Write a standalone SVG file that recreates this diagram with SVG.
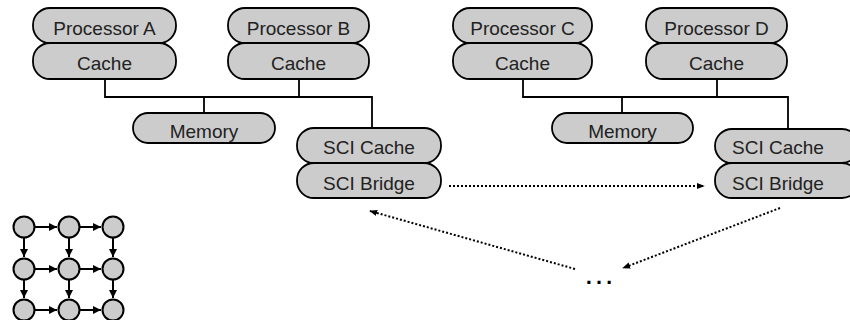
<svg xmlns="http://www.w3.org/2000/svg" width="850" height="320" viewBox="0 0 850 320">
<defs>
<style>
.pill{fill:#cccccc;stroke:#000;stroke-width:1.8}
.t{font-family:"Liberation Sans",Arial,sans-serif;font-size:19px;fill:#222;text-anchor:middle}
.bus{fill:none;stroke:#000;stroke-width:1.8}
.dot{fill:none;stroke:#000;stroke-width:2;stroke-dasharray:2 2}
.g{fill:#cccccc;stroke:#000;stroke-width:2}
.ga{stroke:#000;stroke-width:2;fill:none}
</style>
<marker id="ah" viewBox="0 0 10 10" refX="9" refY="5" markerWidth="4" markerHeight="4" orient="auto" markerUnits="strokeWidth">
<path d="M0,1 L10,5 L0,9 z" fill="#000"/>
</marker>
<marker id="gh" viewBox="0 0 10 10" refX="10" refY="5" markerWidth="4" markerHeight="4" orient="auto" markerUnits="strokeWidth">
<path d="M0,0 L10,5 L0,10 z" fill="#000"/>
</marker>
</defs>
<rect width="850" height="320" fill="#fff"/>
<g id="connectors">
<path class="bus" d="M105,79 V97 H372 V128 M299,79 V97 M204,97 V113"/>
<path class="bus" d="M523,79 V97 H788 V128 M717,79 V97 M622,97 V113"/>
<line class="dot" x1="449" y1="186" x2="704" y2="186" marker-end="url(#ah)"/>
<line class="dot" x1="575" y1="269" x2="370" y2="211" marker-end="url(#ah)"/>
<line class="dot" x1="780" y1="208" x2="623" y2="268" marker-end="url(#ah)"/>
</g>
<g id="procA"><rect class="pill" x="33" y="8" width="143" height="35" rx="17"/><text class="t" x="104.5" y="34.5">Processor A</text></g>
<g id="cacheA"><rect class="pill" x="33" y="43" width="143" height="36" rx="17"/><text class="t" x="104.5" y="69.5">Cache</text></g>
<g id="procB"><rect class="pill" x="228" y="8" width="141" height="35" rx="17"/><text class="t" x="298.5" y="34.5">Processor B</text></g>
<g id="cacheB"><rect class="pill" x="228" y="43" width="141" height="36" rx="17"/><text class="t" x="298.5" y="69.5">Cache</text></g>
<g id="memL"><rect class="pill" x="133" y="113" width="142" height="30" rx="15"/><text class="t" x="204" y="137.5">Memory</text></g>
<g id="sciCacheL"><rect class="pill" x="297" y="128" width="144" height="35" rx="17"/><text class="t" x="369" y="154">SCI Cache</text></g>
<g id="sciBridgeL"><rect class="pill" x="297" y="163" width="144" height="35" rx="17"/><text class="t" x="369" y="189.5">SCI Bridge</text></g>
<g id="procC"><rect class="pill" x="453" y="8" width="139" height="35" rx="17"/><text class="t" x="522.5" y="34.5">Processor C</text></g>
<g id="cacheC"><rect class="pill" x="453" y="43" width="139" height="36" rx="17"/><text class="t" x="522.5" y="69.5">Cache</text></g>
<g id="procD"><rect class="pill" x="646" y="8" width="141" height="35" rx="17"/><text class="t" x="716.5" y="34.5">Processor D</text></g>
<g id="cacheD"><rect class="pill" x="646" y="43" width="141" height="36" rx="17"/><text class="t" x="716.5" y="69.5">Cache</text></g>
<g id="memR"><rect class="pill" x="552" y="113" width="141" height="30" rx="15"/><text class="t" x="622.5" y="137.5">Memory</text></g>
<g id="sciCacheR"><rect class="pill" x="715" y="129" width="144" height="34" rx="17"/><text class="t" x="778" y="154">SCI Cache</text></g>
<g id="sciBridgeR"><rect class="pill" x="715" y="163" width="144" height="35" rx="17"/><text class="t" x="778" y="189.5">SCI Bridge</text></g>
<g id="ellipsis"><text x="599" y="284" style="font-family:'Liberation Sans',Arial,sans-serif;font-size:32px;text-anchor:middle;fill:#000">…</text></g>
<g id="grid">
<g class="ga">
<line x1="35" y1="227" x2="57" y2="227" marker-end="url(#gh)"/>
<line x1="80" y1="227" x2="101" y2="227" marker-end="url(#gh)"/>
<line x1="35" y1="269" x2="57" y2="269" marker-end="url(#gh)"/>
<line x1="80" y1="269" x2="101" y2="269" marker-end="url(#gh)"/>
<line x1="35" y1="310" x2="57" y2="310" marker-end="url(#gh)"/>
<line x1="80" y1="310" x2="101" y2="310" marker-end="url(#gh)"/>
<line x1="24" y1="238" x2="24" y2="257" marker-end="url(#gh)"/>
<line x1="69" y1="238" x2="69" y2="257" marker-end="url(#gh)"/>
<line x1="113" y1="238" x2="113" y2="257" marker-end="url(#gh)"/>
<line x1="24" y1="280" x2="24" y2="298" marker-end="url(#gh)"/>
<line x1="69" y1="280" x2="69" y2="298" marker-end="url(#gh)"/>
<line x1="113" y1="280" x2="113" y2="298" marker-end="url(#gh)"/>
</g>
<circle class="g" cx="24" cy="227" r="10.5"/><circle class="g" cx="69" cy="227" r="10.5"/><circle class="g" cx="113" cy="227" r="10.5"/>
<circle class="g" cx="24" cy="269" r="10.5"/><circle class="g" cx="69" cy="269" r="10.5"/><circle class="g" cx="113" cy="269" r="10.5"/>
<circle class="g" cx="24" cy="310" r="10.5"/><circle class="g" cx="69" cy="310" r="10.5"/><circle class="g" cx="113" cy="310" r="10.5"/>
</g>
</svg>
